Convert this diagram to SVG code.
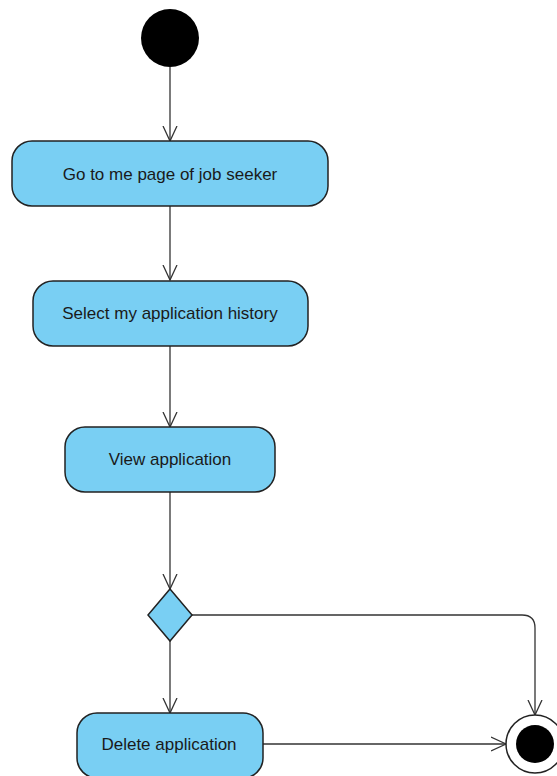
<svg xmlns="http://www.w3.org/2000/svg" width="557" height="776" viewBox="0 0 557 776">
  <style>
    .action { fill: #79cff3; stroke: #222; stroke-width: 1.5; }
    .label { font-family: "Liberation Sans", Arial, sans-serif; font-size: 17px; fill: #1a1a1a; text-anchor: middle; dominant-baseline: central; }
    .flow { fill: none; stroke: #333; stroke-width: 1.3; marker-end: url(#open-arrow); }
  </style>
  <defs>
    <marker id="open-arrow" viewBox="0 0 16 18" refX="15" refY="8" markerWidth="16" markerHeight="18" markerUnits="userSpaceOnUse" orient="auto">
      <path d="M0,1 L15,8 L0,15" fill="none" stroke="#333" stroke-width="1.3"/>
    </marker>
  </defs>
  <rect width="557" height="776" fill="#ffffff"/>

  <g id="connectors">
    <path class="flow" d="M170,67 V141"/>
    <path class="flow" d="M170,206 V280"/>
    <path class="flow" d="M170,346 V427"/>
    <path class="flow" d="M170,492 V589"/>
    <path class="flow" d="M170,641 V713"/>
    <path class="flow" d="M192,615 H522 Q535,615 535,628 V715"/>
    <path class="flow" d="M263,744 H506"/>
  </g>

  <g id="start">
    <circle cx="170" cy="38" r="29" fill="#000"/>
  </g>

  <g id="go-to-me-page">
    <rect class="action" x="12" y="141" width="316" height="65" rx="20"/>
    <text class="label" x="170" y="174">Go to me page of job seeker</text>
  </g>

  <g id="select-history">
    <rect class="action" x="33" y="281" width="275" height="65" rx="20"/>
    <text class="label" x="170" y="313">Select my application history</text>
  </g>

  <g id="view-application">
    <rect class="action" x="65" y="427" width="210" height="65" rx="20"/>
    <text class="label" x="170" y="459">View application</text>
  </g>

  <g id="decision">
    <path class="action" d="M170,589 L192,615 L170,641 L148,615 Z"/>
  </g>

  <g id="delete-application">
    <rect class="action" x="77" y="713" width="186" height="65" rx="20"/>
    <text class="label" x="169" y="744">Delete application</text>
  </g>

  <g id="end">
    <circle cx="535" cy="744" r="29" fill="#fff" stroke="#222" stroke-width="1.5"/>
    <circle cx="535" cy="744" r="19" fill="#000"/>
  </g>
</svg>
